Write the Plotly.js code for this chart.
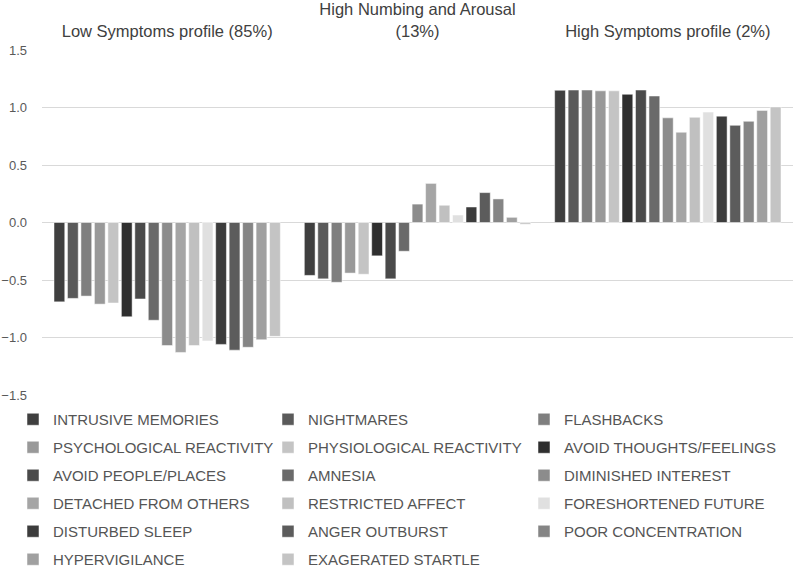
<!DOCTYPE html>
<html>
<head>
<meta charset="utf-8">
<script src="https://cdn.plot.ly/plotly-3.0.1.min.js"></script>
<style>html,body{margin:0;padding:0;background:#fff;}#chart{width:800px;height:571px;}</style>
</head>
<body>
<div id="chart"></div>
<script>
const profiles = ["Low Symptoms profile (85%)", "High Numbing and Arousal<br>(13%)", "High Symptoms profile (2%)"];
const symptoms = ["INTRUSIVE MEMORIES","NIGHTMARES","FLASHBACKS","PSYCHOLOGICAL REACTIVITY","PHYSIOLOGICAL REACTIVITY","AVOID THOUGHTS/FEELINGS","AVOID PEOPLE/PLACES","AMNESIA","DIMINISHED INTEREST","DETACHED FROM OTHERS","RESTRICTED AFFECT","FORESHORTENED FUTURE","DISTURBED SLEEP","ANGER OUTBURST","POOR CONCENTRATION","HYPERVIGILANCE","EXAGERATED STARTLE"];
const lowSymptoms = [-0.69,-0.66,-0.64,-0.71,-0.70,-0.82,-0.665,-0.85,-1.07,-1.13,-1.07,-1.03,-1.06,-1.11,-1.085,-1.02,-0.99];
const highNumbing = [-0.46,-0.49,-0.52,-0.44,-0.45,-0.29,-0.49,-0.25,0.16,0.34,0.15,0.065,0.135,0.26,0.205,0.045,-0.015];
const highSymptoms = [1.15,1.152,1.152,1.145,1.145,1.115,1.152,1.10,0.91,0.785,0.915,0.96,0.925,0.845,0.88,0.975,1.005];
const colors = ["#3f3f3f","#5a5a5a","#7f7f7f","#999999","#c4c4c4","#2f2f2f","#4a4a4a","#6a6a6a","#8c8c8c","#a5a5a5","#c0c0c0","#e0e0e0","#3c3c3c","#5c5c5c","#858585","#a0a0a0","#c4c4c4"];

const legendNames = ["legend","legend2","legend3"];
const traces = symptoms.map((name, i) => ({
  type: "bar",
  name: name,
  x: profiles,
  y: [lowSymptoms[i], highNumbing[i], highSymptoms[i]],
  marker: {color: colors[i], line: {color: "#ffffff", width: 0.5}},
  legend: legendNames[i % 3],
  legendgroup: "g" + i,
  hoverinfo: "name+y"
}));

const legendBase = {
  orientation: "v",
  traceorder: "grouped",
  tracegroupgap: 5.5,
  xref: "container",
  yref: "container",
  yanchor: "top",
  xanchor: "left",
  y: 1 - 403/571,
  bgcolor: "rgba(0,0,0,0)",
  borderwidth: 0,
  font: {family: "Liberation Sans, Arial, sans-serif", size: 15, color: "#555555"}
};

const layout = {
  width: 800,
  height: 571,
  margin: {l: 42, r: 7, t: 50, b: 176, autoexpand: false},
  paper_bgcolor: "#ffffff",
  plot_bgcolor: "#ffffff",
  barmode: "group",
  bargap: 0.085,
  bargroupgap: 0.2,
  xaxis: {
    side: "top",
    type: "category",
    showgrid: false,
    showline: false,
    zeroline: false,
    ticks: "",
    automargin: false,
    ticklabelstandoff: 9,
    tickfont: {family: "Liberation Sans, Arial, sans-serif", size: 16.5, color: "#404040"}
  },
  yaxis: {
    range: [-1.5, 1.5],
    dtick: 0.5,
    tick0: 0,
    tickformat: ".1f",
    showgrid: true,
    gridcolor: "#d9d9d9",
    gridwidth: 1,
    zeroline: true,
    zerolinecolor: "#d9d9d9",
    zerolinewidth: 1,
    showline: false,
    ticks: "",
    automargin: false,
    ticklabelstandoff: 14,
    tickfont: {family: "Liberation Sans, Arial, sans-serif", size: 13, color: "#595959"}
  },
  showlegend: true,
  legend: Object.assign({}, legendBase, {x: 13/800}),
  legend2: Object.assign({}, legendBase, {x: 268/800}),
  legend3: Object.assign({}, legendBase, {x: 524/800})
};

Plotly.newPlot("chart", traces, layout, {displayModeBar: false, responsive: false});
</script>
</body>
</html>
